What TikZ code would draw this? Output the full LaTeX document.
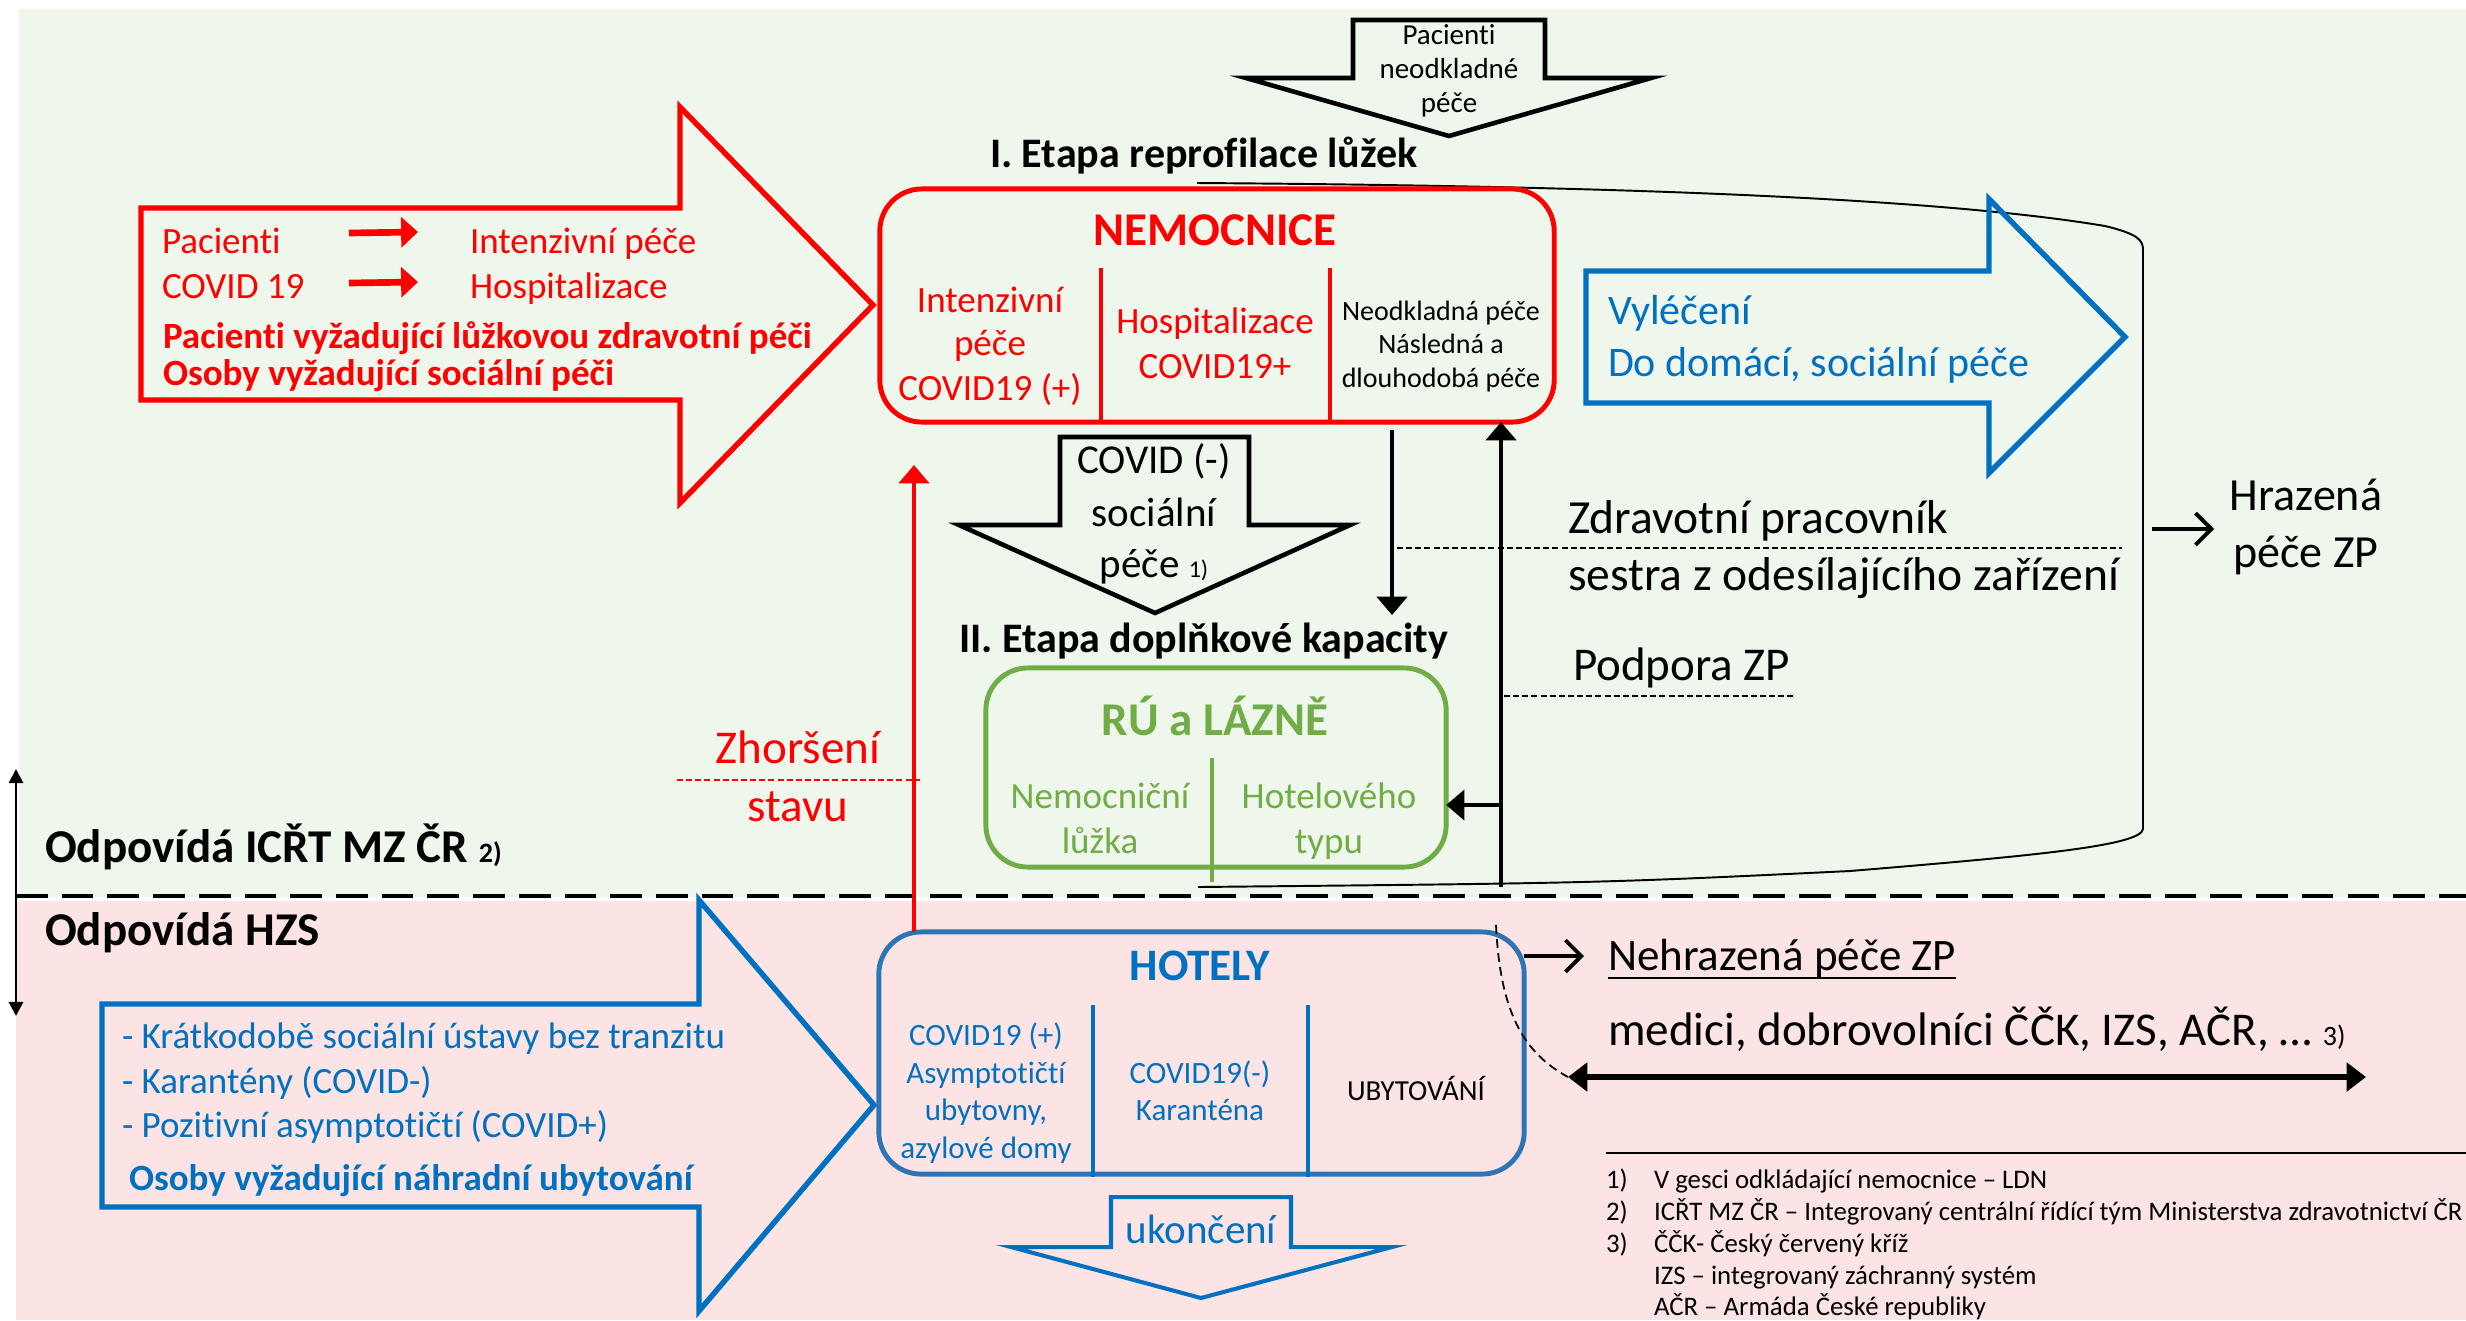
\documentclass[tikz,border=0pt]{standalone}
\usepackage{fontspec}
\setmainfont{Carlito}[Ligatures=NoCommon]
\usetikzlibrary{arrows.meta}
\definecolor{bggreen}{RGB}{239,246,236}
\definecolor{bgpink}{RGB}{252,228,228}
\definecolor{mred}{RGB}{255,0,0}
\definecolor{mblue}{RGB}{0,112,192}
\definecolor{hblue}{RGB}{46,117,182}
\definecolor{mgreen}{RGB}{112,173,71}
\newcommand\pxs[1]{\fontsize{\fpeval{#1*0.2845}pt}{\fpeval{#1*0.2845*1.22}pt}\selectfont}
\begin{document}
\begin{tikzpicture}[x=0.01cm,y=-0.01cm,
 tx/.style={inner sep=0pt,outer sep=0pt},
 lbl/.style={tx,anchor=base},
 lblw/.style={tx,anchor=base west},
 blockred/.style={draw=mred,line width=1.55pt,line join=miter},
 blockblue/.style={draw=mblue,line width=1.55pt,line join=miter},
 blockblack/.style={draw=black,line width=1.3pt,line join=miter},
 roundbox/.style={tx,rounded corners=0.42cm,line width=1.4pt},
 bigtip/.style={-{Triangle[length=5.2pt,width=8.5pt]}},
 thickarrow/.style={line width=1.4pt,bigtip},
 barb/.style={line width=1.1pt,-{Straight Barb[length=4.5pt,width=9pt]}},
 thinrule/.style={line width=0.55pt},
 dashrule/.style={line width=0.5pt,dash pattern=on 1.7pt off 0.9pt},
 foot/.style={lblw,font=\pxs{26.8}},
]
\useasboundingbox (0,0) rectangle (2466,1320);
\fill[white] (0,0) rectangle (2466,1320);
\fill[bggreen] (19,9) rectangle (2466,897);
\fill[bgpink] (16,901) rectangle (2466,1320);

% ---------- red input arrow ----------
\draw[blockred] (141,208) -- (680,208) -- (680,107) -- (873,305) -- (680,503) -- (680,400) -- (141,400) -- cycle;
\node[lblw,text=mred,font=\pxs{37}] (pac) at (162,253) {Pacienti};
\node[lblw,text=mred,font=\pxs{37}] (cov) at (162,298) {COVID 19};
\node[lblw,text=mred,font=\pxs{37}] (ip) at (470,253) {Intenzivní péče};
\node[lblw,text=mred,font=\pxs{37}] (hp) at (470,298) {Hospitalizace};
\coordinate (ra1s) at (349,233); \coordinate (ra1e) at (418,232);
\coordinate (ra2s) at (349,283); \coordinate (ra2e) at (418,282);
\draw[mred,line width=1.9pt,-{Triangle[length=4.8pt,width=8.5pt]}] (ra1s) -- (ra1e);
\draw[mred,line width=1.9pt,-{Triangle[length=4.8pt,width=8.5pt]}] (ra2s) -- (ra2e);
\node[lblw,text=mred,font=\bfseries\pxs{37}] (pvy) at (163,348) {Pacienti vyžadující lůžkovou zdravotní péči};
\node[lblw,text=mred,font=\bfseries\pxs{37}] (osp) at (163,385) {Osoby vyžadující sociální péči};

% ---------- top black arrow ----------
\draw[blockblack] (1353,20) -- (1545,20) -- (1545,78) -- (1651,78) -- (1449,136) -- (1246,78) -- (1353,78) -- cycle;
\node[lbl,font=\pxs{29}] (pn1) at (1449,44) {Pacienti};
\node[lbl,font=\pxs{29}] (pn2) at (1449,78) {neodkladné};
\node[lbl,font=\pxs{29}] (pn3) at (1449,112) {péče};

\node[lblw,font=\bfseries\pxs{42}] (et1) at (990,167) {I. Etapa reprofilace lůžek};

% ---------- bracket ----------
\draw[thinrule] (1197,183) .. controls (1650,186) and (1950,200) .. (2105,226) .. controls (2138,234) and (2143,240) .. (2143,250) -- (2143,829) .. controls (2141,846) and (2030,856) .. (1850,871) .. controls (1600,883) .. (1198,887);

% ---------- NEMOCNICE ----------
\node[roundbox,draw=mred,minimum width=6.74cm,minimum height=2.33cm] (nem) at (1217,305.5) {};
\node[lbl,text=mred,font=\bfseries\pxs{47}] (nemt) at (1215,245) {NEMOCNICE};
\draw[mred,line width=1.4pt] (1101,268) -- (1101,422);
\draw[mred,line width=1.4pt] (1330,268) -- (1330,422);
\node[lbl,text=mred,font=\pxs{37}] (n11) at (990,312) {Intenzivní};
\node[lbl,text=mred,font=\pxs{37}] (n12) at (990,355) {péče};
\node[lbl,text=mred,font=\pxs{37}] (n13) at (990,400) {COVID19 (+)};
\node[lbl,text=mred,font=\pxs{37}] (n21) at (1215,333) {Hospitalizace};
\node[lbl,text=mred,font=\pxs{37}] (n22) at (1215,378) {COVID19+};
\node[lbl,font=\pxs{28}] (n31) at (1441,320) {Neodkladná péče};
\node[lbl,font=\pxs{28}] (n32) at (1441,353) {Následná a};
\node[lbl,font=\pxs{28}] (n33) at (1441,387) {dlouhodobá péče};

% ---------- blue output arrow ----------
\draw[blockblue] (1586,271) -- (1989,271) -- (1989,199) -- (2125,337) -- (1989,473) -- (1989,403) -- (1586,403) -- cycle;
\node[lblw,text=mblue,font=\pxs{42}] (vyl) at (1608,324) {Vyléčení};
\node[lblw,text=mblue,font=\pxs{42}] (dom) at (1608,376) {Do domácí, sociální péče};

% ---------- right texts ----------
\node[lblw,font=\pxs{47.5}] (zdr) at (1568,533) {Zdravotní pracovník};
\draw[dashrule] (1397,548) -- (2122,548);
\node[lblw,font=\pxs{47.5}] (ses) at (1568,590) {sestra z odesílajícího zařízení};
\node[lblw,font=\pxs{47}] (pod) at (1573,680) {Podpora ZP};
\draw[dashrule] (1504,696) -- (1795,696);
\node[lbl,font=\pxs{46}] (hr1) at (2306,510) {Hrazená};
\node[lbl,font=\pxs{46}] (hr2) at (2306,567) {péče ZP};
\coordinate (hrs) at (2152,529); \coordinate (hre) at (2214,529);
\draw[barb] (hrs) -- (hre);

% ---------- COVID(-) arrow ----------
\draw[blockblack] (1060,437) -- (1249,437) -- (1249,525) -- (1350,525) -- (1155,613) -- (959,525) -- (1060,525) -- cycle;
\node[lbl,font=\pxs{41}] (cm1) at (1154,473) {COVID (-)};
\node[lbl,font=\pxs{41}] (cm2) at (1154,526) {sociální};
\node[lbl,font=\pxs{41}] (cm3) at (1154,577) {péče {\pxs{24}1)}};

% ---------- black arrows ----------
\coordinate (dns) at (1392,430); \coordinate (dne) at (1392,615);
\draw[thickarrow] (dns) -- (dne);
\coordinate (ups) at (1501,887);
\draw[thickarrow] (ups) -- (ups |- nem.south);

\node[lblw,font=\bfseries\pxs{42}] (et2) at (959,652) {II. Etapa doplňkové kapacity};

% ---------- RU a LAZNE ----------
\node[roundbox,draw=mgreen,minimum width=4.60cm,minimum height=1.99cm] (ru) at (1216,767.5) {};
\node[lbl,text=mgreen,font=\bfseries\pxs{47}] (rut) at (1215,735) {RÚ a LÁZNĚ};
\draw[mgreen,line width=1.4pt] (1212,758) -- (1212,882);
\node[lbl,text=mgreen,font=\pxs{37}] (ru11) at (1100,808) {Nemocniční};
\node[lbl,text=mgreen,font=\pxs{37}] (ru12) at (1100,853) {lůžka};
\node[lbl,text=mgreen,font=\pxs{37}] (ru21) at (1329,808) {Hotelového};
\node[lbl,text=mgreen,font=\pxs{37}] (ru22) at (1329,853) {typu};
\coordinate (rus) at (1501,805);
\draw[thickarrow] (rus) -- (rus -| ru.east);

% ---------- Zhorseni ----------
\node[lbl,text=mred,font=\pxs{47}] (zh1) at (798,763) {Zhoršení};
\node[lbl,text=mred,font=\pxs{47}] (zh2) at (798,821) {stavu};
\draw[mred,dashrule] (677,780) -- (920,780);

% ---------- left side ----------
\coordinate (lrt) at (16,769); \coordinate (lrb) at (16,1016);
\draw[line width=0.8pt,{Triangle[length=4pt,width=4pt]}-{Triangle[length=4pt,width=4pt]}] (lrt) -- (lrb);
\node[lblw,font=\bfseries\pxs{47}] (odp1) at (45,862) {Odpovídá ICŘT MZ ČR {\pxs{28}2)}};
\node[lblw,font=\bfseries\pxs{47}] (odp2) at (45,945) {Odpovídá HZS};
\draw[line width=1.1pt,dash pattern=on 9pt off 4pt] (16,896) -- (2466,896);

% ---------- blue input arrow ----------
\draw[blockblue] (102,1004) -- (699,1004) -- (699,900) -- (874,1105) -- (699,1311) -- (699,1207) -- (102,1207) -- cycle;
\node[lblw,text=mblue,font=\pxs{37}] (b1) at (122,1048) {- Krátkodobě sociální ústavy bez tranzitu};
\node[lblw,text=mblue,font=\pxs{37}] (b2) at (122,1093) {- Karantény (COVID-)};
\node[lblw,text=mblue,font=\pxs{37}] (b3) at (122,1137) {- Pozitivní asymptotičtí (COVID+)};
\node[lblw,text=mblue,font=\bfseries\pxs{37}] (b4) at (129,1190) {Osoby vyžadující náhradní ubytování};

% ---------- HOTELY ----------
\node[roundbox,draw=hblue,minimum width=6.45cm,minimum height=2.42cm] (hot) at (1201.5,1053) {};
\node[lbl,text=mblue,font=\bfseries\pxs{45}] (hott) at (1200,980) {HOTELY};
\draw[mblue,line width=1.4pt] (1093,1005) -- (1093,1177);
\draw[mblue,line width=1.4pt] (1308,1005) -- (1308,1177);
\node[lbl,text=mblue,font=\pxs{31}] (h11) at (986,1045) {COVID19 (+)};
\node[lbl,text=mblue,font=\pxs{31}] (h12) at (986,1083) {Asymptotičtí};
\node[lbl,text=mblue,font=\pxs{31}] (h13) at (986,1120) {ubytovny,};
\node[lbl,text=mblue,font=\pxs{31}] (h14) at (986,1158) {azylové domy};
\node[lbl,text=mblue,font=\pxs{31}] (h21) at (1200,1083) {COVID19(-)};
\node[lbl,text=mblue,font=\pxs{31}] (h22) at (1200,1120) {Karanténa};
\node[lbl,font=\pxs{29}] (h31) at (1416,1100) {UBYTOVÁNÍ};
\coordinate (zht) at (914,465);
\draw[mred,thickarrow] (hot.north -| zht) -- (zht);

% ---------- ukonceni ----------
\draw[draw=mblue,line width=1.15pt,line join=miter] (1111,1197) -- (1291,1197) -- (1291,1247) -- (1392,1247) -- (1201,1298) -- (1011,1247) -- (1111,1247) -- cycle;
\node[lbl,text=mblue,font=\pxs{41}] (uk) at (1201,1243) {ukončení};

% ---------- Nehrazena ----------
\node[lblw,font=\pxs{45}] (neh) at (1608,970) {Nehrazená péče ZP};
\draw[line width=0.8pt] ([yshift=-0.08cm]neh.base west) -- ([yshift=-0.08cm]neh.base east);
\coordinate (nha) at (1584,956);
\draw[barb] (hot.east |- nha) -- (nha);
\node[lblw,font=\pxs{47}] (med) at (1608,1045) {medici, dobrovolníci ČČK, IZS, AČR, … {\pxs{28}3)}};
\coordinate (dcs) at (1496,925); \coordinate (dal) at (1568,1077); \coordinate (dar) at (2366,1077);
\draw[dashrule,dash pattern=on 2.5pt off 1.5pt] (dcs) .. controls (1500,1010) and (1522,1052) .. (dal);
\draw[line width=1.6pt,{Triangle[length=5.5pt,width=8pt]}-{Triangle[length=5.5pt,width=8pt]}] (dal) -- (dar);

% ---------- footnotes ----------
\draw[line width=0.55pt] (1606,1153) -- (2466,1153);
\node[foot] (f1n) at (1606,1188) {1)};
\node[foot] (f1) at (1654,1188) {V gesci odkládající nemocnice – LDN};
\node[foot] (f2n) at (1606,1220) {2)};
\node[foot] (f2) at (1654,1220) {ICŘT MZ ČR – Integrovaný centrální řídící tým Ministerstva zdravotnictví ČR};
\node[foot] (f3n) at (1606,1252) {3)};
\node[foot] (f3) at (1654,1252) {ČČK- Český červený kříž};
\node[foot] (f4) at (1654,1284) {IZS – integrovaný záchranný systém};
\node[foot] (f5) at (1654,1315) {AČR – Armáda České republiky};
\end{tikzpicture}
\end{document}
